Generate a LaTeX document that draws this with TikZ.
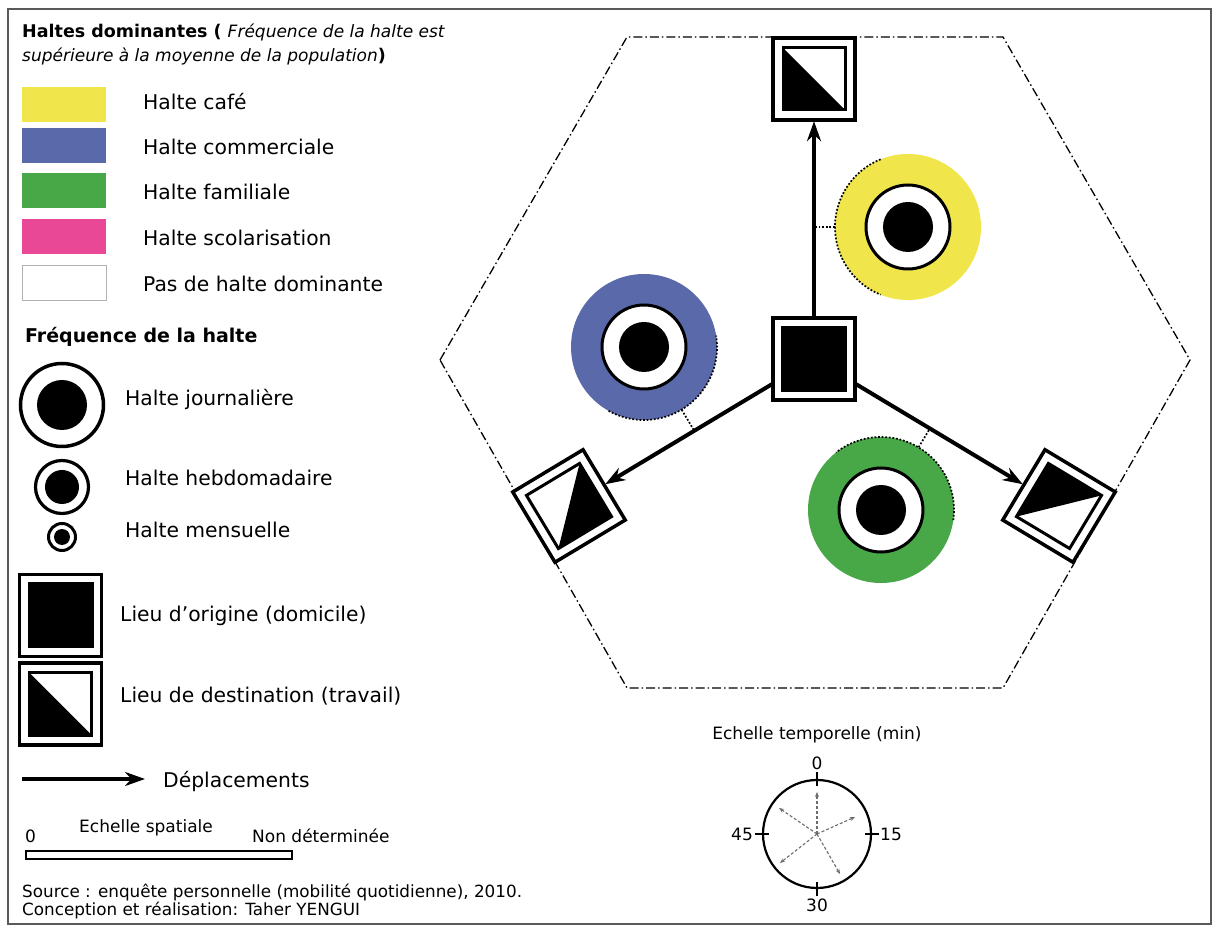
\documentclass[tikz,border=0pt]{standalone}
\usepackage{fontspec}
\setmainfont{DejaVu Sans}
\usetikzlibrary{arrows.meta,calc}
\definecolor{cafe}{RGB}{240,230,75}
\definecolor{comm}{RGB}{90,105,170}
\definecolor{fami}{RGB}{72,168,72}
\definecolor{scol}{RGB}{232,72,150}
\definecolor{framec}{RGB}{90,90,90}
\tikzset{
 lbl/.style={anchor=base west, inner sep=0pt, font=\fontsize{20.3}{24}\selectfont},
 smalltxt/.style={inner sep=0pt, font=\fontsize{17}{20}\selectfont},
 hexa/.style={line width=1.3pt, dash pattern=on 9pt off 3pt on 1.5pt off 3pt},
 move/.style={line width=4pt, -{Stealth[length=20pt,width=14pt]}},
 link/.style={line width=1.7pt, dash pattern=on 1.8pt off 1.8pt},
 timearrow/.style={gray!85!black, line width=1.1pt, dash pattern=on 3pt off 2pt, -{Stealth[length=5pt,width=4pt]}},
 anchornode/.style={circle, minimum size=84pt, inner sep=0pt},
 haltenode/.style={circle, minimum size=146pt, inner sep=0pt},
 pics/origin/.style={code={
   \draw[line width=3.5pt, fill=white] (-41,-41) rectangle (41,41);
   \fill (-33,-33) rectangle (33,33);}},
 pics/dest/.style={code={
   \draw[line width=3.5pt, fill=white] (-41,-41) rectangle (41,41);
   \fill (-31,31) -- (-31,-31) -- (31,-31) -- cycle;
   \draw[line width=3pt] (-31,-31) rectangle (31,31);}},
 pics/halte/.style={code={
   \draw[line width=3pt, fill=white] (0,0) circle[radius=42];
   \fill (0,0) circle[radius=25];}},
}
\begin{document}
\begin{tikzpicture}[x=1pt,y=1pt]
\useasboundingbox (0,0) rectangle (1216,930);
\fill[white] (0,0) rectangle (1216,930);
\draw[framec, line width=1.5pt] (8,6) rectangle (1211,921);

% ---------- legend ----------
\node[anchor=base west, inner sep=0pt] (title1) at (22,892)
  {\fontsize{17.5}{20}\selectfont\bfseries Haltes dominantes ( \fontsize{17}{20}\selectfont\mdseries\itshape Fréquence de la halte est};
\node[anchor=base west, inner sep=0pt] (title2) at (22,868)
  {\fontsize{17}{20}\selectfont\itshape supérieure à la moyenne de la population\upshape\bfseries\fontsize{17.5}{20}\selectfont)};

\fill[cafe] (22,808) rectangle (106,843);
\fill[comm] (22,767) rectangle (106,802);
\fill[fami] (22,722) rectangle (106,757);
\fill[scol] (22,676) rectangle (106,711);
\draw[gray!60, line width=0.8pt] (22,630) rectangle (106,665);
\node[lbl] (l1) at (143,820) {Halte café};
\node[lbl] (l2) at (143,775) {Halte commerciale};
\node[lbl] (l3) at (143,730) {Halte familiale};
\node[lbl] (l4) at (143,684) {Halte scolarisation};
\node[lbl] (l5) at (143,638) {Pas de halte dominante};

\node[anchor=base west, inner sep=0pt, font=\fontsize{19}{22}\selectfont\bfseries] (ft) at (25,587) {Fréquence de la halte};

\draw[line width=3.5pt] (62,525) circle[radius=41.5];
\fill (62,525) circle[radius=25];
\draw[line width=3.2pt] (62,443) circle[radius=26.5];
\fill (62,443) circle[radius=17];
\draw[line width=3pt] (62,393) circle[radius=13.5];
\fill (62,393) circle[radius=8];
\node[lbl] (f1) at (125,524) {Halte journalière};
\node[lbl] (f2) at (125,444) {Halte hebdomadaire};
\node[lbl] (f3) at (125,392) {Halte mensuelle};

\pic at (60.5,314.5) {origin};
\pic at (60.5,226) {dest};
\node[lbl] (s1) at (120,308) {Lieu d’origine (domicile)};
\node[lbl] (s2) at (120,227) {Lieu de destination (travail)};

\coordinate (la) at (22,151);
\coordinate (lb) at (145,151);
\draw[move] (la) -- (lb);
\node[lbl] (dep) at (163,143) {Déplacements};

\node[smalltxt, anchor=base west] (es) at (79,98) {Echelle spatiale};
\node[smalltxt, anchor=base west] (e0) at (25,88) {0};
\node[smalltxt, anchor=base west] (end) at (252,88) {Non déterminée};
\draw[line width=1.5pt] (26,71) rectangle (292,79);

\node[smalltxt, anchor=base west, font=\fontsize{16.8}{20}\selectfont] (src1) at (22,33) {Source : enquête personnelle (mobilité quotidienne), 2010.};
\node[smalltxt, anchor=base west, font=\fontsize{16.8}{20}\selectfont] (src2) at (22,15) {Conception et réalisation: Taher YENGUI};

% ---------- diagram ----------
\draw[hexa] (440,570) -- (627,893) -- (1003,893) -- (1190,570) -- (1003,242) -- (627,242) -- cycle;

\node[rectangle, minimum size=84pt, inner sep=0pt] (O) at (814,571) {};
\node[anchornode] (DT) at (814,851) {};
\node[anchornode] (DL) at (569,424) {};
\node[anchornode] (DR) at (1059,424) {};

\draw[move] (O) -- (DT);
\draw[move] (O) -- (DL);
\draw[move] (O) -- (DR);

\pic at (O) {origin};
\pic at (DT) {dest};
\pic[rotate=121] at (DL) {dest};
\pic[rotate=-121] at (DR) {dest};

\node[haltenode, fill=cafe] (HY) at (908,703) {};
\node[haltenode, fill=comm] (HB) at (644,583) {};
\node[haltenode, fill=fami] (HG) at (881,420) {};
\pic at (HY) {halte};
\pic at (HB) {halte};
\pic at (HG) {halte};

\draw[link] ($(HY)+(112:73)$) arc[start angle=112, end angle=248, radius=73];
\draw[link] ($(HB)+(-119:73)$) arc[start angle=-119, end angle=9, radius=73];
\draw[link] ($(HG)+(-8:73)$) arc[start angle=-8, end angle=128, radius=73];

\coordinate (pY) at (HY.west -| O);
\coordinate (pB) at ($(O)!(HB)!(DL)$);
\coordinate (pG) at ($(O)!(HG)!(DR)$);
\draw[link] (HY.west) -- (pY);
\draw[link] (HB) -- (pB);
\draw[link] (HG) -- (pG);

% ---------- temporal scale ----------
\node[smalltxt, anchor=base] (et) at (817,191) {Echelle temporelle (min)};
\node[circle, draw, line width=2.2pt, minimum size=108pt, inner sep=0pt] (T) at (817,96) {};
\draw[line width=2.2pt] ($(T.north)+(0,-7)$) -- ($(T.north)+(0,7)$);
\draw[line width=2.2pt] ($(T.south)+(0,-7)$) -- ($(T.south)+(0,7)$);
\draw[line width=2.2pt] ($(T.east)+(-7,0)$) -- ($(T.east)+(7,0)$);
\draw[line width=2.2pt] ($(T.west)+(-7,0)$) -- ($(T.west)+(7,0)$);
\node[smalltxt] (t0) at (817,167) {0};
\node[smalltxt] (t15) at (891,96) {15};
\node[smalltxt] (t30) at (817,25) {30};
\node[smalltxt] (t45) at (742,96) {45};
\coordinate (a1) at (817,138);
\coordinate (a2) at (855,113);
\coordinate (a3) at (779,122);
\coordinate (a4) at (780,67);
\coordinate (a5) at (840,56);
\foreach \c in {a1,a2,a3,a4,a5} \draw[timearrow] (T.center) -- (\c);
\end{tikzpicture}
\end{document}
